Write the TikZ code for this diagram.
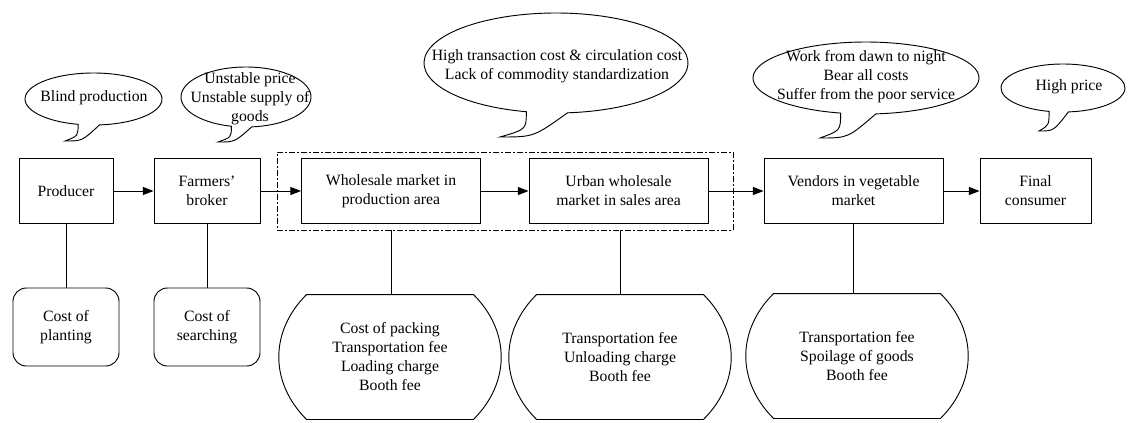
\documentclass[tikz,border=0pt]{standalone}
\usepackage{fontspec}
\setmainfont{Liberation Serif}
\usetikzlibrary{arrows.meta,calc}
\newcommand\speechballoon[4]{%
  \draw[balloon] (#1) ++(103:#2 and #3) coordinate (bA)
    arc[start angle=103,end angle=445,x radius=#2,y radius=#3] coordinate (bB)
    .. controls ($(bB|-#4)!0.5!(#4)$) .. (#4)
    .. controls ($(bA)!0.7!(bA|-#4)$) .. (bA) -- cycle;}
\begin{document}
\begin{tikzpicture}[x=0.75pt,y=-0.75pt,line width=0.7pt,
  font=\fontsize{11.8pt}{14.25pt}\selectfont,
  every node/.style={align=center,inner sep=0pt},
  stage/.style={draw,minimum height=48.75pt},
  costbox/.style={draw,rounded corners=10pt,minimum width=79.5pt,minimum height=58.5pt},
  barrel/.style={minimum width=124.5pt,minimum height=93pt},
  balloon/.style={draw,fill=white},
  arr/.style={-{Triangle[length=8pt,width=6pt]}},
  grp/.style={draw,dash pattern=on 4.5pt off 1.5pt on 1.5pt off 1.5pt,minimum width=342pt,minimum height=58.5pt}]
\useasboundingbox (0,0) rectangle (1128,422);

% group frame
\node[grp] (grp) at (505,191) {};

% stages
\node[stage,minimum width=70.5pt] (prod) at (66,191) {Producer};
\node[stage,minimum width=79.5pt] (brok) at (207,191) {Farmers'\\broker};
\node[stage,minimum width=134.25pt] (whole) at (391,191) {Wholesale market in\\production area};
\node[stage,minimum width=134.25pt] (urban) at (618.5,191) {Urban wholesale\\market in sales area};
\node[stage,minimum width=134.25pt] (vend) at (853.5,191) {Vendors in vegetable\\market};
\node[stage,minimum width=83.25pt] (final) at (1035.5,191) {Final\\consumer};

% costs
\node[costbox] (plant) at (66,327) {Cost of\\planting};
\node[costbox] (search) at (207,327) {Cost of\\searching};
\node[barrel] (c3) at (390,357) {Cost of packing\\Transportation fee\\Loading charge\\Booth fee};
\node[barrel] (c4) at (620,357) {Transportation fee\\Unloading charge\\Booth fee};
\node[barrel] (c5) at (857,356) {Transportation fee\\Spoilage of goods\\Booth fee};
\foreach \c in {c3,c4,c5}
  \draw (\c.north west) -- (\c.north east) .. controls +(37,37) and +(37,-37) .. (\c.south east)
        -- (\c.south west) .. controls +(-37,-37) and +(-37,37) .. (\c.north west) -- cycle;

% connectors
\draw[arr] (prod) -- (brok);
\draw[arr] (brok) -- (whole);
\draw[arr] (whole) -- (urban);
\draw[arr] (urban) -- (vend);
\draw[arr] (vend) -- (final);
\draw (prod) -- (plant);
\draw (brok) -- (search);
\draw (grp.south -| whole.south) -- (whole.south |- c3.north);
\draw (grp.south -| c4.north) -- (c4.north);
\draw (vend.south) -- (vend.south |- c5.north);

% speech balloons
\coordinate (e1) at (93.5,99);  \coordinate (t1) at (65,141);
\speechballoon{e1}{68.5}{26}{t1}
\node (b1) at (94,98) {Blind production};

\coordinate (e2) at (246,97);  \coordinate (t2) at (218,142);
\speechballoon{e2}{65}{30}{t2}
\node (b2) at (250,99) {Unstable price\\Unstable supply of\\goods};

\coordinate (e3) at (556,63);  \coordinate (t3) at (500,137);
\speechballoon{e3}{132}{50}{t3}
\node (b3) at (557,66) {High transaction cost \& circulation cost\\Lack of commodity standardization};

\coordinate (e4) at (866,78);  \coordinate (t4) at (820,138);
\speechballoon{e4}{113}{36}{t4}
\node (b4) at (866,77) {Work from dawn to night\\Bear all costs\\Suffer from the poor service};

\coordinate (e5) at (1063,88);  \coordinate (t5) at (1039,131);
\speechballoon{e5}{62}{24}{t5}
\node (b5) at (1069,87) {High price};
\end{tikzpicture}
\end{document}
